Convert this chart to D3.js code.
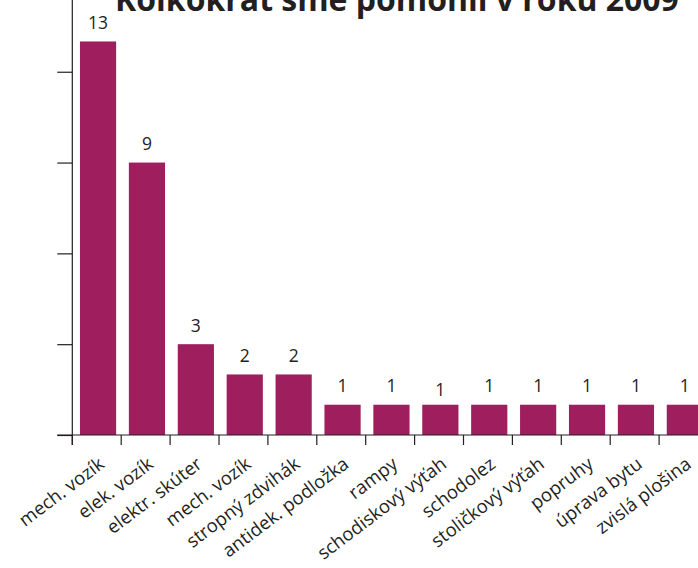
<!DOCTYPE html>
<html>
<head>
<meta charset="utf-8">
<script src="https://cdn.jsdelivr.net/npm/d3@7"></script>
<style>
  html, body { margin: 0; padding: 0; background: #fff; }
  svg { display: block; }
  text { font-family: "Open Sans", "DejaVu Sans", sans-serif; fill: #231f20; }
</style>
</head>
<body>
<svg id="chart" width="698" height="568"></svg>
<script>
// Help provided in 2009, by type of aid
const titleText = "Koľkokrát sme pomohli v roku 2009";
const categories = [
  "mech. vozík", "elek. vozík", "elektr. skúter", "mech. vozík", "stropný zdvihák",
  "antidek. podložka", "rampy", "schodiskový výťah", "schodolez", "stoličkový výťah",
  "popruhy", "úprava bytu", "zvislá plošina"
];
const counts = [13, 9, 3, 2, 2, 1, 1, 1, 1, 1, 1, 1, 1];
const yTicks = [0, 3, 6, 9, 12];
const yMax = 14.37;

const W = 698, H = 568;
const plot = { left: 72.3, right: 708, top: 0, bottom: 435 };
const barColor = "#9e1e5e";
const inkColor = "#231f20";
// the value label over "schodiskový výťah" sits a little lower
const valueLabelNudge = { 7: 4 };

const svg = d3.select("#chart");

// Category slots (tick marks sit on slot boundaries)
const slots = d3.scaleBand()
  .domain(d3.range(categories.length))
  .range([plot.left, plot.right])
  .padding(0);

// Bars inside each slot
const x = d3.scaleBand()
  .domain(d3.range(categories.length))
  .range([plot.left + 1.3, plot.right + 1.3])
  .paddingInner(0.26)
  .paddingOuter(0.13);

const y = d3.scaleLinear()
  .domain([0, yMax])
  .range([plot.bottom, plot.top]);

// Bars
svg.append("g")
  .selectAll("rect")
  .data(counts)
  .join("rect")
  .attr("x", (d, i) => x(i))
  .attr("y", d => y(d))
  .attr("width", x.bandwidth())
  .attr("height", d => y(0) - y(d))
  .attr("fill", barColor);

// Value labels
svg.append("g")
  .selectAll("text")
  .data(counts)
  .join("text")
  .attr("x", (d, i) => x(i) + x.bandwidth() / 2)
  .attr("y", (d, i) => y(d) - 12.5 + (valueLabelNudge[i] || 0))
  .attr("text-anchor", "middle")
  .attr("font-size", 17.5)
  .text(d => d);

// Y axis: line with outward ticks, no labels
const yAxis = d3.axisLeft(y)
  .tickValues(yTicks)
  .tickSize(15)
  .tickFormat("");
const gy = svg.append("g")
  .attr("transform", `translate(${plot.left},0)`)
  .call(yAxis);
gy.select(".domain").remove();
gy.selectAll(".tick line").attr("stroke", inkColor).attr("stroke-width", 1.2);
gy.append("line")
  .attr("x1", 0).attr("x2", 0)
  .attr("y1", y(yMax)).attr("y2", y(0) + 10)
  .attr("stroke", inkColor).attr("stroke-width", 1.2);

// X axis baseline with ticks on slot boundaries
const gx = svg.append("g");
gx.append("line")
  .attr("x1", plot.left - 15).attr("x2", W)
  .attr("y1", y(0)).attr("y2", y(0))
  .attr("stroke", inkColor).attr("stroke-width", 1.2);
gx.selectAll("line.tick")
  .data(d3.range(categories.length + 1))
  .join("line")
  .attr("class", "tick")
  .attr("x1", i => plot.left + i * slots.step())
  .attr("x2", i => plot.left + i * slots.step())
  .attr("y1", y(0))
  .attr("y2", y(0) + 10)
  .attr("stroke", inkColor).attr("stroke-width", 1.2);

// Rotated category labels
gx.selectAll("text")
  .data(categories)
  .join("text")
  .attr("text-anchor", "end")
  .attr("font-size", 18.5)
  .attr("transform", (d, i) => {
    const cx = x(i) + x.bandwidth() / 2 + 7.5;
    const cy = y(0) + 31.5;
    return `translate(${cx},${cy}) rotate(-37)`;
  })
  .text(d => d);

// Title (runs off the top edge)
const title = svg.append("text")
  .attr("x", 397)
  .attr("y", 11)
  .attr("text-anchor", "middle")
  .attr("font-weight", "bold")
  .attr("font-size", 28)
  .text(titleText);
const tw = title.node().getComputedTextLength();
title.attr("font-size", 28 * 564 / tw);
</script>
</body>
</html>
